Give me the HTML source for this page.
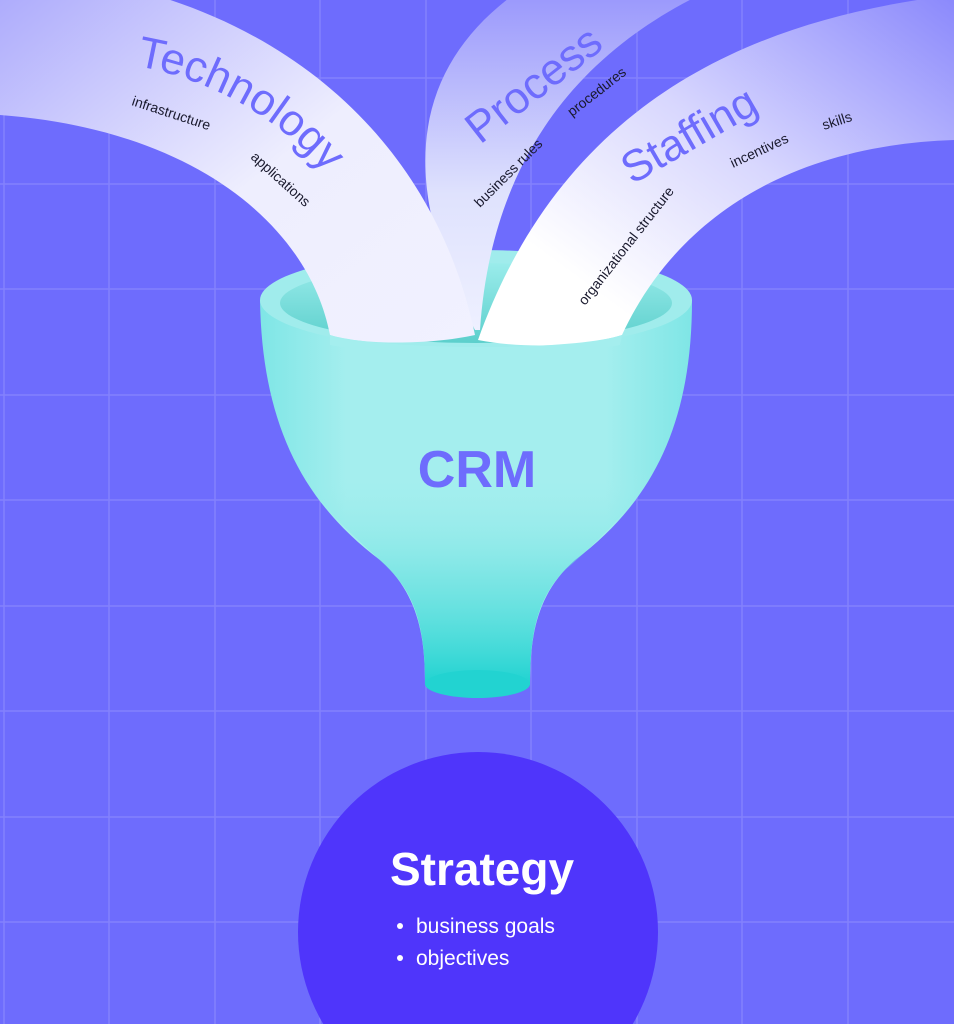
<!DOCTYPE html>
<html><head><meta charset="utf-8"><style>
html,body{margin:0;padding:0;width:954px;height:1024px;overflow:hidden;background:#6e6cfd}
svg{display:block;overflow:hidden}
text{font-family:"Liberation Sans","DejaVu Sans",sans-serif}
</style></head><body>
<svg width="954" height="1024" viewBox="0 0 954 1024" xmlns="http://www.w3.org/2000/svg">
<defs>
<linearGradient id="ribT" x1="0" y1="0" x2="1" y2="1">
<stop offset="0" stop-color="#a9a7fc"/>
<stop offset="0.55" stop-color="#eeeefe"/>
<stop offset="1" stop-color="#f1f1ff"/>
</linearGradient>
<linearGradient id="ribS" x1="1" y1="0" x2="0" y2="1">
<stop offset="0" stop-color="#8a88fc"/>
<stop offset="0.45" stop-color="#d8d7fe"/>
<stop offset="0.8" stop-color="#ffffff"/>
</linearGradient>
<linearGradient id="ribP" x1="0" y1="0" x2="0" y2="1">
<stop offset="0" stop-color="#9896fc"/>
<stop offset="0.6" stop-color="#dfe2fd"/>
<stop offset="1" stop-color="#eef0ff"/>
</linearGradient>
<linearGradient id="body" x1="0" y1="0" x2="1" y2="0">
<stop offset="0" stop-color="#7fe6e6"/>
<stop offset="0.2" stop-color="#a4eeee"/>
<stop offset="0.8" stop-color="#a4eeee"/>
<stop offset="1" stop-color="#7fe6e6"/>
</linearGradient>
<linearGradient id="spout" x1="0" y1="0" x2="0" y2="1">
<stop offset="0" stop-color="#a4eeee" stop-opacity="0"/>
<stop offset="0.5" stop-color="#62e0de" stop-opacity="0.6"/>
<stop offset="1" stop-color="#1fd3d1"/>
</linearGradient>
<linearGradient id="inner" x1="0" y1="0" x2="0" y2="1">
<stop offset="0" stop-color="#9aeceb"/>
<stop offset="1" stop-color="#5ccfcc"/>
</linearGradient>
<path id="techPath" d="M136,66 C218,80 300,128 350,205"/>
</defs>
<g stroke="#8482fd" stroke-width="1.5">
<line x1="4" y1="0" x2="4" y2="1024"/><line x1="109" y1="0" x2="109" y2="1024"/><line x1="215" y1="0" x2="215" y2="1024"/><line x1="320" y1="0" x2="320" y2="1024"/><line x1="426" y1="0" x2="426" y2="1024"/><line x1="531" y1="0" x2="531" y2="1024"/><line x1="637" y1="0" x2="637" y2="1024"/><line x1="742" y1="0" x2="742" y2="1024"/><line x1="848" y1="0" x2="848" y2="1024"/>
<line x1="0" y1="78" x2="954" y2="78"/><line x1="0" y1="184" x2="954" y2="184"/><line x1="0" y1="289" x2="954" y2="289"/><line x1="0" y1="395" x2="954" y2="395"/><line x1="0" y1="500" x2="954" y2="500"/><line x1="0" y1="606" x2="954" y2="606"/><line x1="0" y1="711" x2="954" y2="711"/><line x1="0" y1="817" x2="954" y2="817"/><line x1="0" y1="922" x2="954" y2="922"/>
</g>
<path d="M260,300 C262,420 300,500 380,560 C420,595 425,640 425,685 L530,685 C530,640 535,595 575,560 C655,500 692,420 692,300 Z" fill="url(#body)"/>
<path d="M300,470 C330,520 360,540 390,570 C420,600 425,640 425,685 L530,685 C530,640 535,600 565,570 C600,540 630,510 655,470 Z" fill="url(#spout)"/>
<ellipse cx="477.5" cy="684" rx="52.5" ry="14" fill="#22d3d1"/>
<ellipse cx="476" cy="300" rx="216" ry="50" fill="#a0ecec"/>
<ellipse cx="476" cy="303" rx="196" ry="40" fill="url(#inner)"/>
<path d="M520,-10 C420,60 390,170 475,330 L480,330 C490,180 560,60 710,-10 Z" fill="url(#ribP)"/>
<path d="M0,-30 C250,-20 430,120 475,335 C430,345 360,345 330,335 C310,230 200,130 0,115 Z" fill="url(#ribT)"/>
<path d="M954,-5 C740,20 560,110 478,340 C530,350 590,345 622,335 C680,210 800,145 954,140 Z" fill="url(#ribS)"/>
<path d="M330,335 C380,350 570,352 622,335 L620,345 C570,355 380,355 330,345 Z" fill="#a4eeee"/>
<g fill="#6e6cfd" font-size="44">
<text><textPath href="#techPath">Technology</textPath></text>
<text transform="translate(480,145) rotate(-38)">Process</text>
<text transform="translate(632,185) rotate(-30)">Staffing</text>
</g>
<g fill="#1a1a2e" font-size="14">
<text transform="translate(131,105) rotate(18)">infrastructure</text>
<text transform="translate(250,158) rotate(42)">applications</text>
<text transform="translate(480,208) rotate(-45)">business rules</text>
<text transform="translate(572,117) rotate(-38)">procedures</text>
<text transform="translate(585,306) rotate(-52)">organizational structure</text>
<text transform="translate(733,168) rotate(-25)">incentives</text>
<text transform="translate(824,130) rotate(-18)">skills</text>
</g>
<text x="477" y="487" text-anchor="middle" font-size="52" font-weight="bold" fill="#6e6cfd">CRM</text>
<circle cx="478" cy="932" r="180" fill="#4f35fb"/>
<text x="482" y="885" text-anchor="middle" font-size="46" font-weight="bold" fill="#fff">Strategy</text>
<circle cx="400" cy="926" r="3" fill="#fff"/>
<circle cx="400" cy="958" r="3" fill="#fff"/>
<text x="416" y="933" font-size="21" fill="#fff">business goals</text>
<text x="416" y="965" font-size="21" fill="#fff">objectives</text>
</svg>
</body></html>
